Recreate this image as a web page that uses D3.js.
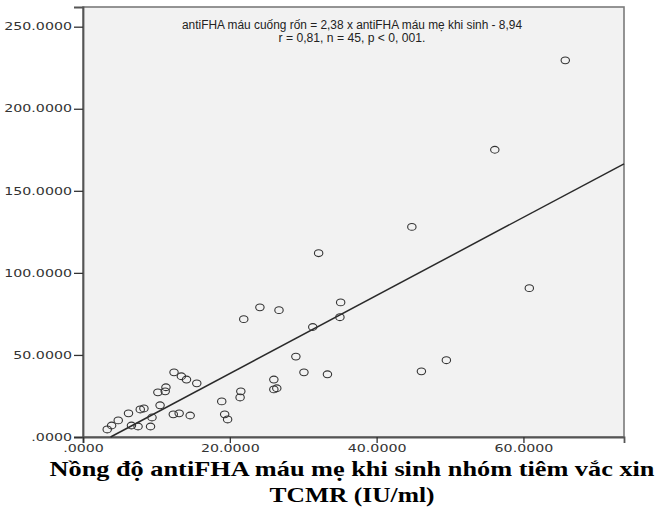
<!DOCTYPE html>
<html>
<head>
<meta charset="utf-8">
<script src="https://cdn.jsdelivr.net/npm/d3@7"></script>
<style>
  html, body { margin: 0; padding: 0; background: #fff; }
  svg { display: block; }
</style>
</head>
<body>
<svg id="chart" width="665" height="522"></svg>
<script>
// Maternal antiFHA at delivery (x) vs cord blood antiFHA (y), IU/ml
const maternal = [65.7, 56.1, 44.8, 60.8, 49.5, 46.1,
  32.1, 24.1, 26.7, 21.9, 35.1, 35.0, 31.3, 29.0, 30.1, 33.3, 26.0, 26.0, 26.4,
  21.5, 21.4, 18.9, 19.3, 19.7,
  12.4, 13.4, 14.1, 15.5, 10.2, 11.3, 11.2, 10.5, 12.3, 13.1, 14.6,
  8.3, 7.8, 9.4, 9.2, 6.2, 4.8, 3.9, 3.3, 6.6, 7.5];
const cord = [229.5, 175.0, 128.0, 90.7, 46.8, 40.0,
  112.0, 79.0, 77.3, 71.8, 82.0, 73.0, 67.0, 49.0, 39.4, 38.2, 35.0, 29.0, 29.7,
  27.8, 24.1, 21.7, 13.8, 10.7,
  39.4, 37.0, 35.0, 32.7, 27.2, 30.3, 27.8, 19.3, 13.8, 14.4, 13.1,
  17.4, 16.8, 11.9, 6.4, 14.4, 10.1, 7.0, 4.6, 7.0, 6.4];

const xTicks = [0, 20, 40, 60];
const xTickLabels = [".0000", "20.0000", "40.0000", "60.0000"];
const yTicks = [0, 50, 100, 150, 200, 250];
const yTickLabels = [".0000", "50.0000", "100.0000", "150.0000", "200.0000", "250.0000"];

// Fit line: cord = 2.38 * maternal - 8.94
const slope = 2.38, intercept = -8.94;
const fitLabel = ["antiFHA máu cuống rốn = 2,38 x antiFHA máu mẹ khi sinh - 8,94",
                  "r = 0,81, n = 45, p < 0, 001."];
const xTitle = ["Nồng độ antiFHA máu mẹ khi sinh nhóm tiêm vắc xin", "TCMR (IU/ml)"];

const svg = d3.select("#chart");
const L = 83, R = 624, T = 7, B = 437;
const xMax = 73.7, yMax = 262;
const wide = 1.42; // horizontal stretch of the tick lettering

const x = d3.scaleLinear().domain([0, xMax]).range([L, R]);
const y = d3.scaleLinear().domain([0, yMax]).range([B, T]);

// plot background and frame
svg.append("rect").attr("x", L).attr("y", T).attr("width", R - L).attr("height", B - T)
  .attr("fill", "#f2f2f2").attr("stroke", "#7a7a7a").attr("stroke-width", 1.6);

// axes
const tickFont = "'DejaVu Sans', Verdana, sans-serif";
const yAxis = svg.append("g").attr("transform", `translate(${L},0)`)
  .call(d3.axisLeft(y).tickValues(yTicks).tickSize(9).tickPadding(2)
    .tickFormat((d, i) => yTickLabels[i]));
const xAxis = svg.append("g").attr("transform", `translate(0,${B})`)
  .call(d3.axisBottom(x).tickValues(xTicks).tickSize(6).tickPadding(2)
    .tickFormat((d, i) => xTickLabels[i]));
[xAxis, yAxis].forEach(g => {
  g.select(".domain").attr("stroke", "#555").attr("stroke-width", 1.8);
  g.selectAll(".tick line").attr("stroke", "#333").attr("stroke-width", 1.3);
  g.selectAll(".tick text").attr("fill", "#333").attr("font-family", tickFont)
    .attr("font-size", 10)
    .each(function() {
      const w = this.getComputedTextLength();
      d3.select(this).attr("textLength", w * wide).attr("lengthAdjust", "spacingAndGlyphs");
    });
});

// regression line across the frame
const x0 = -intercept / slope;
svg.append("line")
  .attr("x1", x(x0)).attr("y1", y(0))
  .attr("x2", x(xMax)).attr("y2", y(slope * xMax + intercept))
  .attr("stroke", "#2a2a2a").attr("stroke-width", 1.5);

// observations
svg.append("g").selectAll("ellipse").data(maternal.map((m, i) => [m, cord[i]]))
  .join("ellipse")
  .attr("cx", d => x(d[0])).attr("cy", d => y(d[1]))
  .attr("rx", 4.2).attr("ry", 3.4)
  .attr("fill", "none").attr("stroke", "#333").attr("stroke-width", 1.1);

// equation annotation
const fitWidths = [340, 147];
svg.append("g").selectAll("text").data(fitLabel).join("text")
  .attr("x", 352).attr("y", (d, i) => 29 + i * 13)
  .attr("text-anchor", "middle")
  .attr("font-family", "'Liberation Sans', Arial, sans-serif")
  .attr("font-size", 12).attr("fill", "#222")
  .attr("textLength", (d, i) => fitWidths[i]).attr("lengthAdjust", "spacingAndGlyphs")
  .text(d => d);

// x-axis title
const titleWidths = [605, 165];
svg.append("g").selectAll("text").data(xTitle).join("text")
  .attr("x", 352).attr("y", (d, i) => 476 + i * 26)
  .attr("text-anchor", "middle")
  .attr("font-family", "'Liberation Serif', 'Times New Roman', serif")
  .attr("font-weight", "bold").attr("font-size", 21).attr("fill", "#000")
  .attr("textLength", (d, i) => titleWidths[i]).attr("lengthAdjust", "spacingAndGlyphs")
  .text(d => d);
</script>
</body>
</html>
